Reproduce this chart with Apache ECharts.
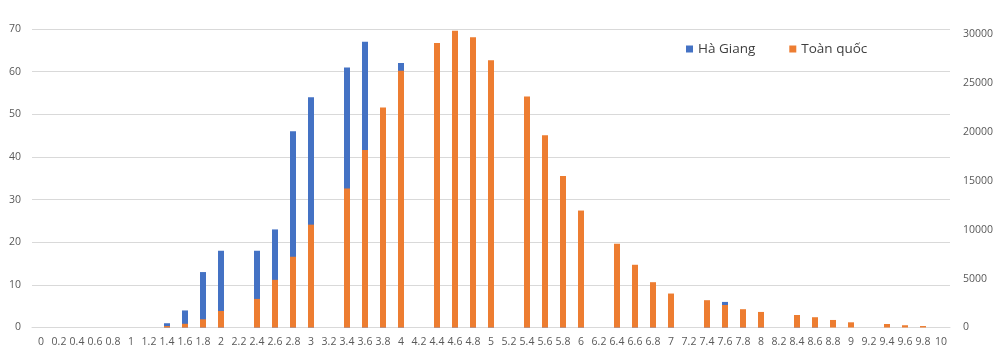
<!DOCTYPE html>
<html><head><meta charset="utf-8">
<script src="https://cdn.jsdelivr.net/npm/echarts@6/dist/echarts.min.js"></script>
<style>html,body{margin:0;padding:0;background:#fff}#c{width:1000px;height:356px}</style>
</head><body><div id="c"></div>
<script>
const categories = ['0','0.2','0.4','0.6','0.8','1','1.2','1.4','1.6','1.8','2','2.2','2.4','2.6','2.8','3','3.2','3.4','3.6','3.8','4','4.2','4.4','4.6','4.8','5','5.2','5.4','5.6','5.8','6','6.2','6.4','6.6','6.8','7','7.2','7.4','7.6','7.8','8','8.2','8.4','8.6','8.8','9','9.2','9.4','9.6','9.8','10'];
const haGiang = [0,0,0,0,0,0,0,1,4,13,18,0,18,23,46,54,0,61,67,50,62,0,45,40,33,27,0,20,15,12,8,0,6,5,3,3,0,2,6,2,1,0,1,1,0,0,0,0,0,0,0];
const toanQuoc = [0,0,0,0,0,0,0,150,380,840,1690,0,2920,4870,7230,10510,0,14200,18130,22480,26240,0,29080,30310,29660,27300,0,23610,19640,15470,11950,0,8560,6410,4630,3470,0,2790,2300,1870,1590,0,1280,1050,770,530,0,360,230,150,0];
const leftTicks = {min:0, max:70, interval:10};
const rightTicks = {min:0, max:30500, interval:5000};

const chart = echarts.init(document.getElementById('c'), null, {renderer:'canvas'});
const FONT = '"Open Sans", "Liberation Sans", sans-serif';
const lbl = {color:'#595959', fontSize:10.5, fontFamily:FONT};
const noZero = arr => arr.map(v => v === 0 ? null : v);
chart.setOption({
  animation:false,
  backgroundColor:'#fff',
  grid:{left:32, right:50, top:29, bottom:28.5, containLabel:false},
  legend:{
    data:['Hà Giang','Toàn quốc'],
    left:681, top:37, icon:'rect', itemWidth:7, itemHeight:7, itemGap:34,
    textStyle:{color:'#404040', fontSize:13.5, fontFamily:FONT}
  },
  xAxis:{
    type:'category', data:categories,
    axisLine:{lineStyle:{color:'#d9d9d9'}}, axisTick:{show:false},
    axisLabel:Object.assign({interval:0, margin:9}, lbl)
  },
  yAxis:[
    {type:'value', min:leftTicks.min, max:leftTicks.max, interval:leftTicks.interval,
     axisLine:{show:false}, axisTick:{show:false},
     splitLine:{lineStyle:{color:'#d9d9d9'}},
     axisLabel:Object.assign({margin:11}, lbl)},
    {type:'value', min:rightTicks.min, max:rightTicks.max, interval:rightTicks.interval,
     axisLine:{show:false}, axisTick:{show:false}, splitLine:{show:false},
     axisLabel:Object.assign({margin:13, showMaxLabel:false, align:'left', formatter:function(v){return String(v);}}, lbl)}
  ],
  series:[
    {name:'Hà Giang', type:'bar', yAxisIndex:0, data:noZero(haGiang), barWidth:6, barGap:'-100%',
     itemStyle:{color:'#4472C4'}},
    {name:'Toàn quốc', type:'bar', yAxisIndex:1, data:noZero(toanQuoc), barWidth:6, barGap:'-100%',
     itemStyle:{color:'#ED7D31'}}
  ]
});
</script></body></html>
